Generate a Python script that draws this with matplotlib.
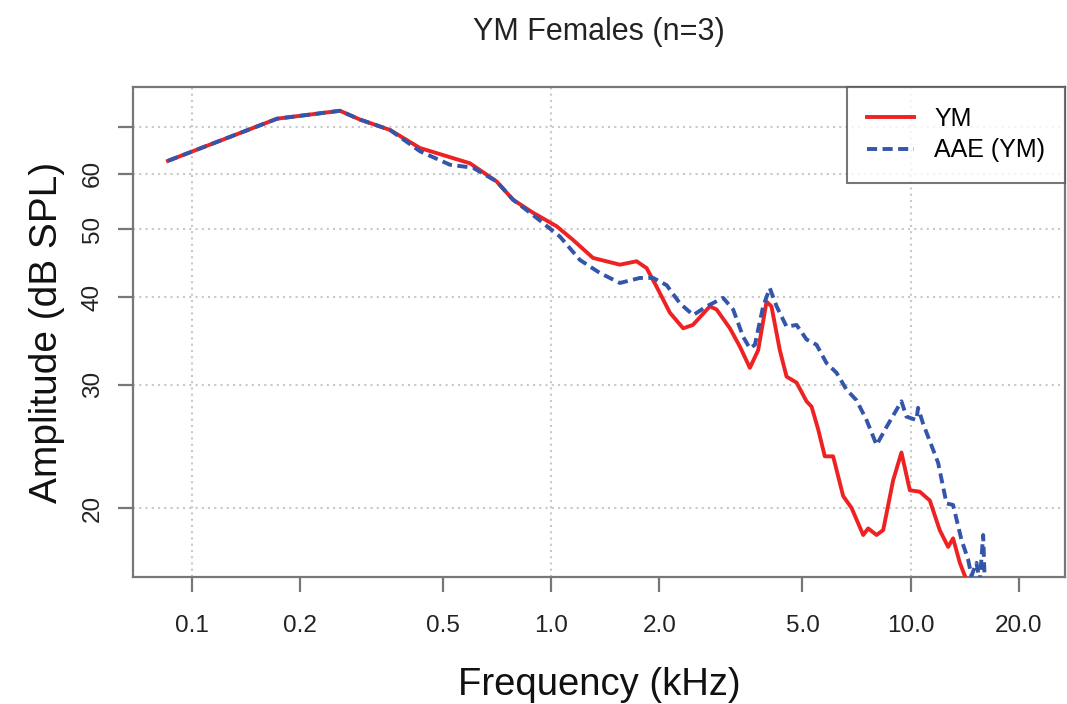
import matplotlib
matplotlib.use("Agg")
import matplotlib.pyplot as plt

plt.rcParams['font.family'] = ['Liberation Sans', 'DejaVu Sans']

# --- data (frequency in kHz, amplitude in dB SPL) ---
ym_freq = [0.0857, 0.1724, 0.2581, 0.2934, 0.3555, 0.4309, 0.5936, 0.7043, 0.7822, 0.8887,
           1.034, 1.148, 1.306, 1.552, 1.727, 1.842, 1.963, 2.138, 2.328, 2.477,
           2.762, 2.884, 3.141, 3.348, 3.570, 3.765, 3.972, 4.10, 4.325, 4.516,
           4.815, 5.133, 5.302, 5.53, 5.77, 6.087, 6.49, 6.85, 7.38, 7.62,
           8.04, 8.39, 8.94, 9.43, 9.95, 10.6, 11.31, 12.05, 12.72, 13.13,
           13.71, 14.16, 14.6, 15.5]
ym_amp = [62.6, 71.9, 73.8, 71.7, 69.3, 65.3, 62.1, 58.5, 55.1, 52.8,
          50.5, 48.3, 45.5, 44.5, 45.0, 44.0, 41.4, 38.0, 36.1, 36.5,
          38.8, 38.4, 36.1, 34.0, 31.7, 33.6, 39.4, 38.8, 33.6, 30.8,
          30.2, 28.4, 27.9, 25.9, 23.7, 23.7, 20.8, 20.0, 18.3, 18.7,
          18.3, 18.6, 21.9, 24.0, 21.2, 21.1, 20.5, 18.6, 17.6, 18.1,
          16.7, 16.0, 15.2, 14.5]

aae_freq = [0.0857, 0.1724, 0.2581, 0.2934, 0.3555, 0.4309, 0.5223, 0.605, 0.7043, 0.7822,
            0.8887, 1.057, 1.201, 1.365, 1.552, 1.764, 1.921, 2.094, 2.279, 2.483,
            2.704, 3.008, 3.207, 3.42, 3.570, 3.686, 3.887, 4.056, 4.237, 4.516,
            4.815, 5.133, 5.473, 5.834, 6.219, 6.633, 7.07, 7.54, 8.04, 8.57,
            9.43, 9.74, 10.38, 10.49, 10.83, 11.93, 12.59, 13.13, 13.86, 14.45,
            14.77, 15.25, 15.58, 15.92, 16.09, 17.7, 19.5, 20.0, 20.5]
aae_amp = [62.6, 71.9, 73.8, 71.7, 69.3, 64.6, 61.8, 61.2, 58.5, 55.1,
           52.4, 48.8, 45.2, 43.3, 41.9, 42.6, 42.6, 41.6, 39.2, 37.7,
           38.8, 39.9, 38.4, 35.1, 33.8, 34.2, 38.8, 41.2, 38.8, 36.3,
           36.5, 34.8, 34.2, 32.2, 31.2, 29.5, 28.5, 26.7, 24.6, 26.1,
           28.4, 27.0, 26.7, 27.8, 26.4, 23.2, 20.3, 20.2, 18.0, 16.9,
           16.0, 16.7, 15.7, 18.3, 15.6, 14.8, 14.5, 16.05, 14.5]

x_ticks = [0.1, 0.2, 0.5, 1.0, 2.0, 5.0, 10.0, 20.0]
x_tick_labels = ['0.1', '0.2', '0.5', '1.0', '2.0', '5.0', '10.0', '20.0']
y_ticks = [20, 30, 40, 50, 60, 70]
y_tick_labels = ['20', '30', '40', '50', '60', '']

# --- figure ---
fig = plt.figure(figsize=(10.67, 7.04), dpi=100)
ax = fig.add_axes([133 / 1067, 1 - 577 / 704, (1065 - 133) / 1067, (577 - 87) / 704])

ax.set_xscale('log')
ax.set_yscale('log')
ax.set_xlim(0.0685, 26.9)
ax.set_ylim(15.94, 79.8)

# grid: decades on x, every tick on y
for gx in [0.1, 1.0, 10.0]:
    ax.axvline(gx, color='#c8c8c8', lw=1.5, ls=(0, (1, 2)), zorder=0)
for gy in y_ticks:
    ax.axhline(gy, color='#c8c8c8', lw=1.5, ls=(0, (1, 2)), zorder=0)

ax.plot(ym_freq, ym_amp, color='#ee2222', lw=2.8, label='YM', zorder=3)
ax.plot(aae_freq, aae_amp, color='#3355aa', lw=2.8, ls=(0, (2.6, 1.4)),
        label='AAE (YM)', zorder=4)

ax.set_xticks(x_ticks)
ax.set_xticklabels(x_tick_labels)
ax.set_yticks(y_ticks)
ax.set_yticklabels(y_tick_labels, rotation=90, va='center')
ax.minorticks_off()
ax.tick_params(axis='both', length=11, width=1.6, color='#777777',
               labelsize=17.5, labelcolor='#222222')
ax.tick_params(axis='x', pad=16)
ax.tick_params(axis='y', pad=10)

for sp in ax.spines.values():
    sp.set_color('#777777')
    sp.set_linewidth(1.6)

ax.set_xlabel('Frequency (kHz)', fontsize=27.5, color='#111111', labelpad=22)
ax.set_ylabel('Amplitude (dB SPL)', fontsize=28, color='#111111', labelpad=12)
fig.text(0.561, 0.955, 'YM Females (n=3)', ha='center', va='center',
         fontsize=22, color='#222222')

leg = ax.legend(loc='upper right', fontsize=18, frameon=True, fancybox=False,
                borderaxespad=0, handlelength=1.9, borderpad=0.8,
                labelspacing=0.3, handletextpad=0.8)
leg.get_frame().set_edgecolor('#555555')
leg.get_frame().set_linewidth(1.5)

fig.savefig('out.png', dpi=100)
